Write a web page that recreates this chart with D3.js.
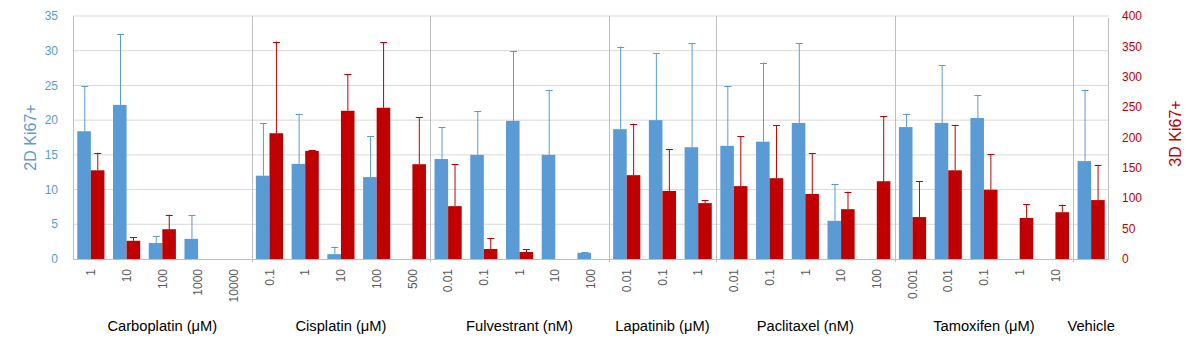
<!DOCTYPE html>
<html>
<head>
<meta charset="utf-8">
<script src="https://cdn.jsdelivr.net/npm/d3@7"></script>
<style>
  body { margin: 0; background: #fff; }
  svg { font-family: "Liberation Sans", Arial, sans-serif; }
</style>
</head>
<body>
<svg id="chart"></svg>
<script>
// drug groups and the doses under each
const groups = ["Carboplatin (μM)", "Cisplatin (μM)", "Fulvestrant (nM)", "Lapatinib (μM)", "Paclitaxel (nM)", "Tamoxifen (μM)", "Vehicle"];
const doses = [
    ["1", "10", "100", "1000", "10000"],
    ["0.1", "1", "10", "100", "500"],
    ["0.01", "0.1", "1", "10", "100"],
    ["0.01", "0.1", "1"],
    ["0.01", "0.1", "1", "10", "100"],
    ["0.001", "0.01", "0.1", "1", "10"],
    [""]
];

// 2D Ki67+ (left axis), mean and upper error
const ki67_2d = [18.4, 22.2, 2.3, 2.9, null,  12.0, 13.7, 0.7, 11.8, null,  14.4, 15.0, 19.9, 15.0, 0.9,  18.7, 20.0, 16.1,  16.3, 16.9, 19.6, 5.5, null,  19.0, 19.6, 20.3, null, null,  14.1];
const ki67_2d_err = [6.5, 10.2, 1.0, 3.4, null,  7.6, 7.2, 1.1, 5.9, null,  4.6, 6.3, 10.0, 9.3, 0.1,  11.9, 9.6, 15.0,  8.6, 11.4, 11.5, 5.3, null,  1.9, 8.3, 3.3, null, null,  10.3];

// 3D Ki67+ (right axis), mean and upper error
const ki67_3d = [146, 30, 49, null, null,  207, 178, 244, 249, 156,  87, 16.5, 11.5, null, null,  138, 112, 92,  120, 133, 107, 82, 128,  69, 146, 114, 67.5, 77,  97];
const ki67_3d_err = [29, 6, 24, null, null,  151, 1.6, 60, 108, 77,  69, 17.5, 4.5, null, null,  85, 69, 4.4,  82, 87, 67, 29, 107,  59, 75, 59, 22.5, 12.6,  58];

const leftTicks = d3.range(0, 36, 5);
const rightTicks = d3.range(0, 401, 50);

const width = 1202, height = 353;
const margin = {top: 16, right: 93, bottom: 94, left: 73};
const blue = "#5b9bd5", red = "#c00000";

const svg = d3.select("#chart").attr("width", width).attr("height", height);

// flatten to one row per category
const rows = [];
groups.forEach((g, gi) => {
    doses[gi].forEach(d => {
        const i = rows.length;
        rows.push({key: gi + "_" + d, group: gi, dose: d,
            v2: ki67_2d[i], e2: ki67_2d_err[i], v3: ki67_3d[i], e3: ki67_3d_err[i]});
    });
});

const x0 = margin.left, x1 = width - margin.right;
const y0 = height - margin.bottom, y1 = margin.top;

const x = d3.scaleBand().domain(rows.map(r => r.key)).range([x0, x1])
    .paddingInner(0.24).paddingOuter(0.12);
const xs = d3.scaleBand().domain(["2d", "3d"]).range([0, x.bandwidth()]);
const yL = d3.scaleLinear().domain([0, 35]).range([y0, y1]);
const yR = d3.scaleLinear().domain([0, 400]).range([y0, y1]);

// gridlines
svg.append("g").selectAll("line").data(leftTicks.slice(1)).join("line")
    .attr("x1", x0).attr("x2", x1)
    .attr("y1", d => yL(d)).attr("y2", d => yL(d))
    .attr("stroke", "#d9d9d9").attr("stroke-width", 1);

// group separators
const step = x.step();
const firstOfGroup = rows.filter((r, i) => i > 0 && rows[i - 1].group !== r.group);
svg.append("g").selectAll("line").data(firstOfGroup).join("line")
    .attr("x1", d => Math.round(x(d.key) - step * 0.12) + 0.5)
    .attr("x2", d => Math.round(x(d.key) - step * 0.12) + 0.5)
    .attr("y1", y1).attr("y2", y0 + 3)
    .attr("stroke", "#bfbfbf");

// axes lines
svg.append("line").attr("x1", x0 + 0.5).attr("x2", x0 + 0.5).attr("y1", y1).attr("y2", y0)
    .attr("stroke", "#bfbfbf");
svg.append("line").attr("x1", x1 - 0.5).attr("x2", x1 - 0.5).attr("y1", y1 + 2).attr("y2", y0)
    .attr("stroke", "#bfbfbf");
svg.append("line").attr("x1", x0).attr("x2", x1).attr("y1", y0 + 0.5).attr("y2", y0 + 0.5)
    .attr("stroke", "#bfbfbf");

// bars
const cat = svg.append("g").selectAll("g").data(rows).join("g")
    .attr("transform", d => `translate(${x(d.key)},0)`);

cat.filter(d => d.v2 != null).append("rect")
    .attr("x", xs("2d")).attr("width", xs.bandwidth())
    .attr("y", d => yL(d.v2)).attr("height", d => yL(0) - yL(d.v2))
    .attr("fill", blue);
cat.filter(d => d.v3 != null).append("rect")
    .attr("x", xs("3d")).attr("width", xs.bandwidth())
    .attr("y", d => yR(d.v3)).attr("height", d => yR(0) - yR(d.v3))
    .attr("fill", red);

// error bars (upper only)
function errBar(sel, cx, yScale, v, e, color) {
    const g = sel.filter(d => d[v] != null && d[e] != null).append("g")
        .attr("stroke", color).attr("stroke-width", 1);
    g.append("line").attr("x1", cx).attr("x2", cx)
        .attr("y1", d => yScale(d[v])).attr("y2", d => yScale(d[v] + d[e]));
    g.append("line").attr("x1", cx - 3.5).attr("x2", cx + 3.5)
        .attr("y1", d => Math.round(yScale(d[v] + d[e])) + 0.5)
        .attr("y2", d => Math.round(yScale(d[v] + d[e])) + 0.5);
}
errBar(cat, Math.round(xs("2d") + xs.bandwidth() / 2) + 0.5, yL, "v2", "e2", blue);
errBar(cat, Math.round(xs("3d") + xs.bandwidth() / 2) + 0.5, yR, "v3", "e3", red);

// left ticks
svg.append("g").selectAll("text").data(leftTicks).join("text")
    .attr("x", 58).attr("y", d => yL(d)).attr("dy", "0.35em")
    .attr("text-anchor", "end").attr("font-size", "12px").attr("fill", blue)
    .text(d => d);

// right ticks
svg.append("g").selectAll("text").data(rightTicks).join("text")
    .attr("x", 1122).attr("y", d => yR(d)).attr("dy", "0.35em")
    .attr("text-anchor", "start").attr("font-size", "12px").attr("fill", red)
    .text(d => d);

// axis titles
svg.append("text")
    .attr("transform", `translate(36,${(y0 + y1) / 2}) rotate(-90)`)
    .attr("text-anchor", "middle").attr("font-size", "16px").attr("fill", blue)
    .text("2D Ki67+");
svg.append("text")
    .attr("transform", `translate(1181,${(y0 + y1) / 2 - 4}) rotate(-90)`)
    .attr("text-anchor", "middle").attr("font-size", "16px").attr("fill", red)
    .text("3D Ki67+");

// dose labels
svg.append("g").selectAll("text").data(rows).join("text")
    .attr("transform", d => `translate(${x(d.key) + x.bandwidth() / 2},${y0 + 10}) rotate(-90)`)
    .attr("text-anchor", "end").attr("dy", "0.35em")
    .attr("font-size", "12px").attr("fill", "#595959")
    .text(d => d.dose);

// group labels
svg.append("g").selectAll("text").data(groups).join("text")
    .attr("x", (g, gi) => {
        const r = rows.filter(d => d.group === gi);
        return (x(r[0].key) + x(r[r.length - 1].key) + x.bandwidth()) / 2;
    })
    .attr("y", 331)
    .attr("text-anchor", "middle").attr("font-size", "14.7px").attr("fill", "#000")
    .text(d => d);
</script>
</body>
</html>
